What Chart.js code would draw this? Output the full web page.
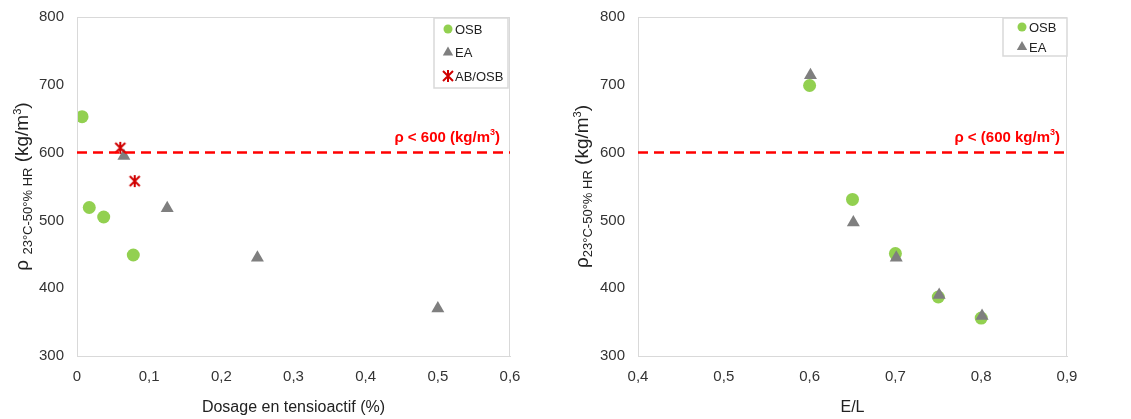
<!DOCTYPE html>
<html>
<head>
<meta charset="utf-8">
<script src="https://cdn.jsdelivr.net/npm/chart.js@4/dist/chart.umd.min.js"></script>
<style>
  body { margin: 0; background: #fff; }
  #wrap { width: 1131px; height: 419px; position: relative; }
  canvas { position: absolute; top: 0; }
</style>
</head>
<body>
<div id="wrap">
  <canvas id="left" width="560" height="419" style="left:0"></canvas>
  <canvas id="right" width="571" height="419" style="left:560px"></canvas>
</div>
<script>
// --- données graphique gauche (dosage en tensioactif) ---
const dosageOsb = [0.007, 0.017, 0.037, 0.078];
const rhoOsbDosage = [653, 519, 505, 449];
const dosageEa = [0.065, 0.125, 0.25, 0.5];
const rhoEaDosage = [595, 518, 445, 370];
const dosageAbOsb = [0.06, 0.08];
const rhoAbOsb = [607, 558];

// --- données graphique droite (E/L) ---
const elOsb = [0.6, 0.65, 0.7, 0.75, 0.8];
const rhoOsbEl = [699, 531, 451, 387, 356];
const elEa = [0.601, 0.651, 0.701, 0.751, 0.801];
const rhoEaEl = [714, 497, 445, 390, 359];

// tick labels
const xTicksLeft = ['0', '0,1', '0,2', '0,3', '0,4', '0,5', '0,6'];
const xTicksRight = ['0,4', '0,5', '0,6', '0,7', '0,8', '0,9'];
const yTicks = ['300', '400', '500', '600', '700', '800'];

const seuil = 600;

const GREEN = '#92d050';
const GREY = '#7f7f7f';
const RED = '#d00000';
const FONT = 'Liberation Sans, Arial, sans-serif';

function pts(xs, ys) { return xs.map((x, i) => ({ x: x, y: ys[i] })); }

// marqueur astérisque (X + barre verticale)
const star = document.createElement('canvas');
star.width = 14; star.height = 14;
(function () {
    const c = star.getContext('2d');
    c.strokeStyle = RED; c.lineWidth = 2;
    c.beginPath();
    c.moveTo(7, 1); c.lineTo(7, 13);
    c.moveTo(2, 2); c.lineTo(12, 12);
    c.moveTo(12, 2); c.lineTo(2, 12);
    c.stroke();
})();

// plugin : cadre, ligne seuil, titre Y, légende
function decorPlugin(opt) {
    return {
        id: 'decor',
        afterDatasetsDraw(chart) {
            const ctx = chart.ctx;
            const a = chart.chartArea;
            const y = chart.scales.y.getPixelForValue(seuil);
            ctx.save();
            // cadre
            ctx.strokeStyle = '#d9d9d9'; ctx.lineWidth = 1;
            ctx.strokeRect(a.left + 0.5, a.top + 0.5, a.right - a.left - 1, a.bottom - a.top);
            // ligne seuil
            ctx.strokeStyle = '#ff0000'; ctx.lineWidth = 2.5;
            ctx.setLineDash([10, 6]);
            ctx.beginPath(); ctx.moveTo(a.left, y); ctx.lineTo(a.right, y); ctx.stroke();
            ctx.setLineDash([]);
            // étiquette seuil
            ctx.fillStyle = '#ff0000';
            ctx.textBaseline = 'alphabetic'; ctx.textAlign = 'left';
            const big = 'bold 15px ' + FONT, sup = 'bold 9px ' + FONT;
            ctx.font = big; const w1 = ctx.measureText(opt.seuilA).width;
            ctx.font = sup; const w2 = ctx.measureText('3').width;
            ctx.font = big; const w3 = ctx.measureText(')').width;
            let tx = opt.seuilRight - (w1 + w2 + w3);
            const ty = 142;
            ctx.fillText(opt.seuilA, tx, ty);
            ctx.font = sup; ctx.fillText('3', tx + w1, ty - 7);
            ctx.font = big; ctx.fillText(')', tx + w1 + w2, ty);

            // titre axe Y
            ctx.translate(opt.yTitleX, (a.top + a.bottom) / 2);
            ctx.rotate(-Math.PI / 2);
            ctx.fillStyle = '#222';
            const parts = [
                { t: opt.rho, f: '19px ' + FONT, dy: 0 },
                { t: '23°C-50°% HR', f: '13px ' + FONT, dy: 5 },
                { t: ' (kg/m', f: '19px ' + FONT, dy: 0 },
                { t: '3', f: '11px ' + FONT, dy: -5 },
                { t: ')', f: '19px ' + FONT, dy: 0 }
            ];
            let total = 0;
            parts.forEach(p => { ctx.font = p.f; p.w = ctx.measureText(p.t).width; total += p.w; });
            let px = -total / 2;
            ctx.textBaseline = 'middle';
            parts.forEach(p => { ctx.font = p.f; ctx.fillText(p.t, px, 6 + p.dy); px += p.w; });
            ctx.restore();

            // légende
            ctx.save();
            const L = opt.legend;
            ctx.fillStyle = '#fff';
            ctx.fillRect(L.x, L.y, L.w, L.h);
            ctx.strokeStyle = '#d9d9d9'; ctx.lineWidth = 1.5;
            ctx.strokeRect(L.x, L.y, L.w, L.h);
            ctx.font = '13px ' + FONT; ctx.fillStyle = '#222';
            ctx.textBaseline = 'middle'; ctx.textAlign = 'left';
            chart.data.datasets.forEach((ds, i) => {
                const ry = L.y + L.row0 + i * L.step;
                ctx.fillStyle = ds.backgroundColor;
                Chart.helpers.drawPoint(ctx, {
                    pointStyle: ds.pointStyle, rotation: 0,
                    radius: ds.pointStyle === 'triangle' ? 6 : 4.5, borderWidth: 0
                }, L.x + L.mk, ry);
                ctx.fillStyle = '#222';
                ctx.fillText(ds.label, L.x + L.tx, ry + 1);
            });
            ctx.restore();
        }
    };
}

function makeChart(id, datasets, xMin, xMax, xLabels, xTitle, rightPad, opt) {
    return new Chart(document.getElementById(id), {
        type: 'scatter',
        data: { datasets: datasets },
        options: {
            responsive: false,
            animation: false,
            layout: { padding: { top: 17, right: rightPad, left: 0, bottom: 0 } },
            plugins: { legend: { display: false }, tooltip: { enabled: false } },
            scales: {
                x: {
                    type: 'linear', min: xMin, max: xMax,
                    ticks: {
                        stepSize: 0.1, padding: 12, color: '#333',
                        font: { family: FONT, size: 15 },
                        callback: (v, i) => xLabels[i]
                    },
                    grid: { display: false, drawTicks: false },
                    border: { color: '#d9d9d9' },
                    title: {
                        display: true, text: xTitle, color: '#222',
                        font: { family: FONT, size: 16 },
                        padding: { top: 0, bottom: 2 }
                    },
                    afterFit: s => { s.height = 63; }
                },
                y: {
                    min: 300, max: 800,
                    ticks: {
                        stepSize: 100, padding: 13, color: '#333',
                        // lineHeight réduit : évite que Chart.js ajoute de la marge en haut
                        font: { family: FONT, size: 15, lineHeight: 0.2 },
                        callback: (v, i) => yTicks[i]
                    },
                    grid: { display: false, drawTicks: false },
                    border: { color: '#d9d9d9' },
                    afterFit: s => { s.width = opt.yWidth; }
                }
            }
        },
        plugins: [decorPlugin(opt)]
    });
}

const osbStyle = { pointStyle: 'circle', backgroundColor: GREEN, borderColor: GREEN, pointRadius: 6.5, borderWidth: 0 };
const eaStyle = { pointStyle: 'triangle', backgroundColor: GREY, borderColor: GREY, pointRadius: 7.5, borderWidth: 0 };

makeChart('left', [
    Object.assign({ label: 'OSB', data: pts(dosageOsb, rhoOsbDosage), order: 2 }, osbStyle),
    Object.assign({ label: 'EA', data: pts(dosageEa, rhoEaDosage), order: 1 }, eaStyle),
    { label: 'AB/OSB', data: pts(dosageAbOsb, rhoAbOsb), order: 0, pointStyle: star,
      backgroundColor: RED, borderColor: RED }
], 0, 0.6, xTicksLeft, 'Dosage en tensioactif (%)', 50, {
    yWidth: 77, yTitleX: 17, rho: 'ρ ', seuilA: 'ρ < 600 (kg/m', seuilRight: 500,
    legend: { x: 434, y: 18, w: 74, h: 70, row0: 11, step: 23.5, mk: 14, tx: 21 }
});

makeChart('right', [
    Object.assign({ label: 'OSB', data: pts(elOsb, rhoOsbEl), order: 2 }, osbStyle),
    Object.assign({ label: 'EA', data: pts(elEa, rhoEaEl), order: 1 }, eaStyle)
], 0.4, 0.9, xTicksRight, 'E/L', 64, {
    yWidth: 78, yTitleX: 17, rho: 'ρ', seuilA: 'ρ < (600 kg/m', seuilRight: 500,
    legend: { x: 443, y: 18, w: 64, h: 38, row0: 9, step: 20, mk: 19, tx: 26 }
});
</script>
</body>
</html>
